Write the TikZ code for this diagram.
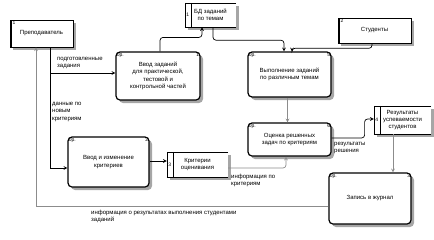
\documentclass[tikz,border=0pt]{standalone}
\usepackage{fontspec}
\setmainfont{Liberation Sans}
\usetikzlibrary{arrows,positioning}

\begin{document}
\begin{tikzpicture}[
    x=1pt, y=1pt,
    font=\fontsize{6}{7.4}\selectfont,
    hatch/.style={preaction={draw=none, fill=black!35, transform canvas={shift={(3pt,-3pt)}}}},
    num/.style={font=\fontsize{5}{5}\selectfont, inner sep=1.3pt},
    proc/.style={rectangle, draw, rounded corners=4pt, line width=1.2pt, fill=white, align=center, hatch,
        label={[num, anchor=north east]north east:#1}, label={[num, anchor=north west]north west:0р.}},
    ext/.style={rectangle, draw, line width=0.6pt, fill=white, align=center, hatch,
        label={[num, anchor=north west, xshift=1.5pt]north west:#1},
        path picture={\draw[line width=3pt] (path picture bounding box.north west) -- (path picture bounding box.south west);}},
    store/.style={rectangle, fill=white, align=center, hatch,
        label={[num, anchor=west]west:#1},
        append after command={(\tikzlastnode.north east) edge (\tikzlastnode.north west)
            (\tikzlastnode.north west) edge (\tikzlastnode.south west)
            (\tikzlastnode.south west) edge (\tikzlastnode.south east)
            ([xshift=6pt]\tikzlastnode.north west) edge ([xshift=6pt]\tikzlastnode.south west)}},
    lbl/.style={align=left, inner sep=1pt},
    flow/.style={->, >=stealth, line width=0.7pt},
    gflow/.style={flow, draw=black!45},
]
    \useasboundingbox (0,0) rectangle (434,-239);

    % External entities and stores
    \node[ext=1, minimum width=63pt, minimum height=27pt] (prep) at (41.5,-33.5) {Преподаватель};
    \node[ext=2, minimum width=73pt, minimum height=25pt] (stud) at (374.5,-30.5) {Студенты};
    \node[store=1, minimum width=51pt, minimum height=24pt] (bd) at (210.5,-15) {БД заданий\\по темам};
    \node[store=4, minimum width=57pt, minimum height=28pt] (rez) at (402.5,-120) {Результаты\\успеваемости\\студентов};
    \node[store=3, minimum width=61pt, minimum height=25pt] (krit) at (197.5,-164.5) {Критерии\\оценивания};

    % Processes
    \node[proc=1, minimum width=84pt, minimum height=48pt] (p1) at (158,-76) {Ввод заданий\\для практической,\\тестовой и\\контрольной частей};
    \node[proc=5, minimum width=83pt, minimum height=45pt] (p5) at (289.5,-74.5) {Выполнение заданий\\по различным темам};
    \node[proc=6, minimum width=83pt, minimum height=33pt] (p6) at (289.5,-139.5) {Оценка решенных\\задач по критериям};
    \node[proc=2, minimum width=81pt, minimum height=50pt] (p2) at (108.5,-162) {Ввод и изменение\\критериев};
    \node[proc=3, minimum width=82pt, minimum height=51pt] (p3) at (370,-198.5) {Запись в журнал};

    % Arrows
    \coordinate (prepout) at ([xshift=8.5pt]prep.south);
    \coordinate (p1in) at ([yshift=3pt]p1.west);
    \draw[flow] (prepout) |- ([yshift=-6pt]p2.west);
    \draw[flow] (prepout |- p1in) -- (p1in);
    \draw[flow, rounded corners=3pt] ([xshift=2pt]p1.north) -- ++(0,14) -| ([xshift=-8.5pt]bd.south);
    \draw[flow, rounded corners=3pt] ([xshift=2.5pt]bd.south) -- ++(0,-13) -| ([xshift=-5.5pt]p5.north);
    \draw[flow, rounded corners=3pt] ([xshift=-2.5pt]stud.south) -- ++(0,-5) -| ([xshift=2.5pt]p5.north);
    \draw[gflow] ([xshift=-2pt]p5.south) -- ([xshift=-2pt]p6.north);
    \draw[flow, rounded corners=3pt] ([yshift=1.5pt]p6.east) -- ++(33,0) |- ([yshift=1pt]rez.west);
    \coordinate (rezout) at ([xshift=-9.5pt]rez.south);
    \draw[gflow] (rezout) -- (rezout |- p3.north);
    \coordinate (kritin) at ([yshift=3.5pt]krit.west);
    \draw[flow] (p2.east |- kritin) -- (kritin);
    \draw[gflow, rounded corners=3pt] ([yshift=-3.5pt]krit.east) -| ([xshift=-3.5pt]p6.south);
    \draw[gflow] ([yshift=-7.5pt]p3.west) -| ([xshift=-5.5pt]prep.south);

    % Flow labels
    \node[lbl, anchor=north west] (l_zad) at (56,-56) {подготовленные\\задания};
    \node[lbl, anchor=north west] (l_dan) at (51,-101) {данные по\\новым\\критериям};
    \node[lbl, anchor=north west] (l_rez) at (333,-141) {результаты\\решения};
    \node[lbl, anchor=north west] (l_krit) at (230,-173) {информация по\\критериям};
    \node[lbl, anchor=north west] (l_inf) at (90,-209) {информация о результатах выполнения студентами\\заданий};
\end{tikzpicture}
\end{document}
